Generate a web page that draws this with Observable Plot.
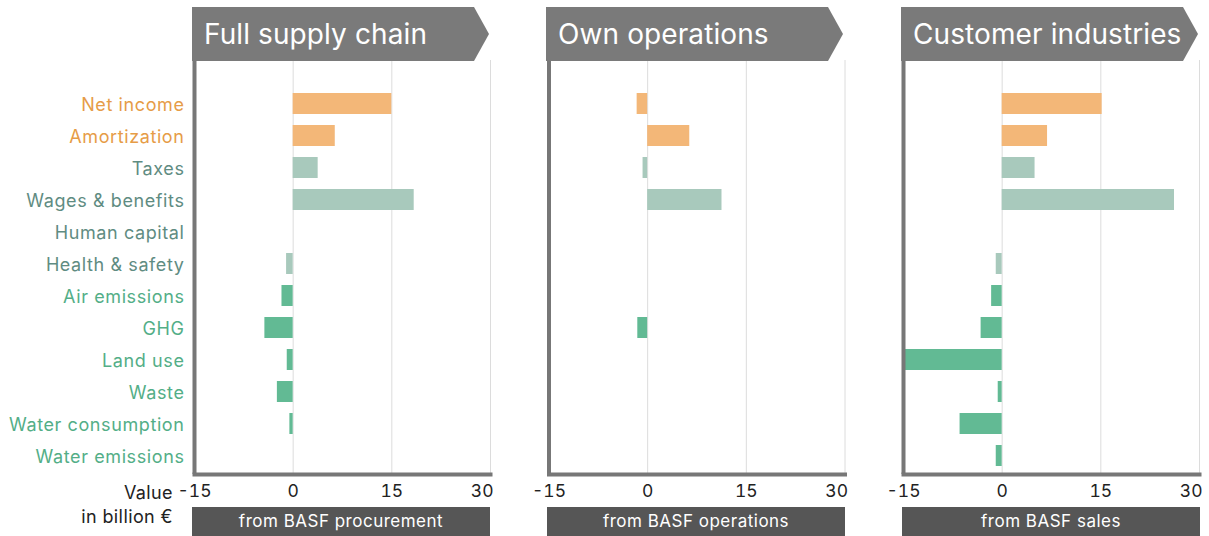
<!DOCTYPE html>
<html>
<head>
<meta charset="utf-8">
<script src="https://cdn.jsdelivr.net/npm/d3@7"></script>
<script src="https://cdn.jsdelivr.net/npm/@observablehq/plot@0.6"></script>
<style>
  html, body { margin: 0; padding: 0; background: #fff; overflow: hidden; }
  body { width: 1209px; height: 536px; position: relative; font-family: "Inter", "Noto Sans", sans-serif; }
  .panel { position: absolute; top: 60px; }
  .banner { position: absolute; top: 7px; height: 54px; width: 297px; background: #7a7a7a; color: #fff;
    font-size: 28px; line-height: 54px; padding-left: 12px; box-sizing: border-box; white-space: nowrap;
    letter-spacing: 0.1px;
    clip-path: polygon(0 0, calc(100% - 15px) 0, 100% 50%, calc(100% - 15px) 100%, 0 100%); }
  .foot { position: absolute; top: 507px; height: 29px; width: 298px; background: #565656; color: #fff;
    font-size: 17px; line-height: 29px; text-align: center; letter-spacing: 0.5px; }
  .unit { position: absolute; right: 1036px; font-size: 18px; color: #222; text-align: right; white-space: nowrap;
    letter-spacing: 0.4px; }
</style>
</head>
<body>
<div id="root"></div>
<script>
const categories = ["Net income", "Amortization", "Taxes", "Wages & benefits", "Human capital",
  "Health & safety", "Air emissions", "GHG", "Land use", "Waste", "Water consumption", "Water emissions"];
const groups = ["fin", "fin", "soc", "soc", "soc", "soc", "env", "env", "env", "env", "env", "env"];
const fullSupplyChain = [15.0, 6.4, 3.8, 18.4, 0, -1.0, -1.7, -4.3, -0.9, -2.4, -0.5, 0];
const ownOperations   = [-1.6, 6.4, -0.7, 11.3, 0, 0, 0, -1.5, 0, 0, 0, 0];
const customerIndustries = [15.2, 6.9, 5.0, 26.2, 0, -0.9, -1.6, -3.2, -15.0, -0.6, -6.4, -0.9];
const xTicks = [-15, 0, 15, 30];
const panelTitles = ["Full supply chain", "Own operations", "Customer industries"];
const panelFooters = ["from BASF procurement", "from BASF operations", "from BASF sales"];

const barColors = {fin: "#f3b778", soc: "#a8c9bc", env: "#62ba94"};
const labelColors = {fin: "#e69c47", soc: "#5f8c82", env: "#53ae87"};

const panels = [
  {values: fullSupplyChain, left: 0, ml: 194, width: 506, labels: true, banner: 192, foot: 192},
  {values: ownOperations, left: 530, ml: 18.5, width: 331, labels: false, banner: 546, foot: 547},
  {values: customerIndustries, left: 885, ml: 18, width: 324, labels: false, banner: 901, foot: 902}
];

const root = document.getElementById("root");
const fmt = d => (d < 0 ? "-" + Math.abs(d) : String(d));

panels.forEach((p, k) => {
  const data = categories.map((c, i) => ({category: c, value: p.values[i], group: groups[i]}));
  const marks = [
    Plot.gridX(xTicks.slice(1), {stroke: "#dcdcdc", strokeOpacity: 1, strokeWidth: 1}),
    Plot.barX(data.filter(d => d.value !== 0), {x: "value", y: "category", fill: d => barColors[d.group]}),
    Plot.ruleX([-15], {stroke: "#777", strokeWidth: 4}),
    Plot.frame({anchor: "bottom", stroke: "#777", strokeWidth: 4}),
    Plot.axisX(xTicks.slice(0, -1), {tickSize: 0, tickPadding: 10, fontSize: 17.5, fill: "#222", tickFormat: fmt, label: null}),
    Plot.axisX(xTicks.slice(-1), {tickSize: 0, tickPadding: 10, fontSize: 17.5, fill: "#222", tickFormat: fmt, label: null, textAnchor: "end", dx: 3})
  ];
  if (p.labels) {
    marks.push(Plot.text(data, {y: "category", text: "category", frameAnchor: "left", textAnchor: "end",
      dx: -10, dy: 1, fontSize: 18, fill: d => labelColors[d.group]}));
  }
  const svg = Plot.plot({
    width: p.width, height: 444,
    marginTop: 0, marginBottom: 30, marginLeft: p.ml, marginRight: p.width - p.ml - 296,
    style: {fontFamily: "Inter, 'Noto Sans', sans-serif", overflow: "visible"},
    x: {domain: [-15, 30]},
    y: {domain: categories, axis: null, paddingInner: 0.34, paddingOuter: 0.17, insetTop: 28, insetBottom: 2},
    color: {type: "identity"},
    marks
  });
  if (p.labels) {
    svg.querySelectorAll("text").forEach(t => { if (categories.includes(t.textContent)) t.style.letterSpacing = "0.6px"; });
  }
  const wrap = document.createElement("div");
  wrap.className = "panel";
  wrap.style.left = p.left + "px";
  wrap.appendChild(svg);
  root.appendChild(wrap);

  const b = document.createElement("div");
  b.className = "banner";
  b.style.left = p.banner + "px";
  b.textContent = panelTitles[k];
  root.appendChild(b);

  const f = document.createElement("div");
  f.className = "foot";
  f.style.left = p.foot + "px";
  f.textContent = panelFooters[k];
  root.appendChild(f);
});

const u1 = document.createElement("div");
u1.className = "unit"; u1.style.top = "482px"; u1.textContent = "Value";
const u2 = document.createElement("div");
u2.className = "unit"; u2.style.top = "506px"; u2.textContent = "in billion €";
root.appendChild(u1); root.appendChild(u2);
</script>
</body>
</html>
